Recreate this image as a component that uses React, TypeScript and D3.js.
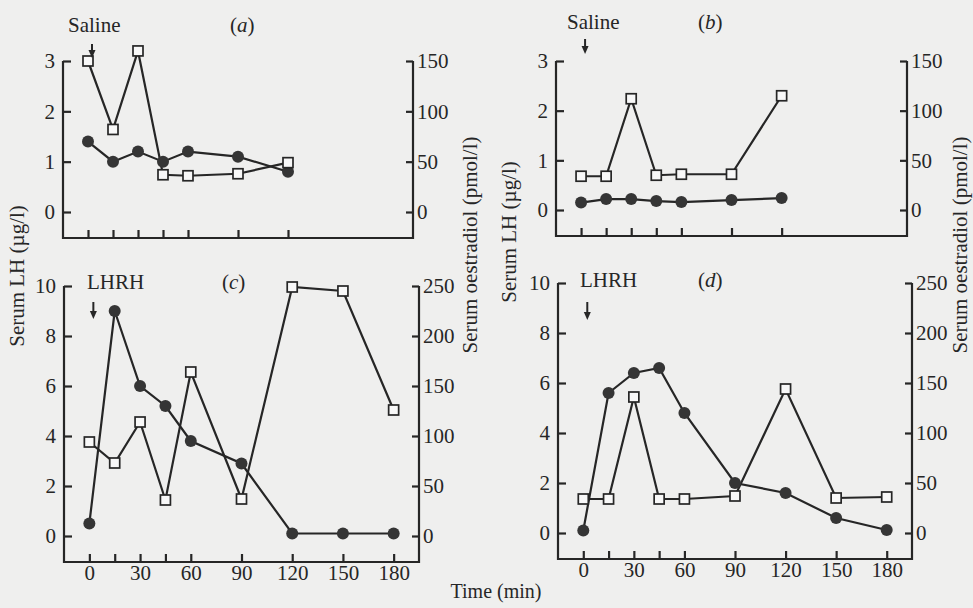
import { useEffect, useRef } from 'react';
import * as d3 from 'd3';

// sampling times (min)
const timesSaline = [0, 15, 30, 45, 60, 90, 120];
const timesLhrh = [0, 15, 30, 45, 60, 90, 120, 150, 180];
const timeTickLabels = [0, 30, 60, 90, 120, 150, 180];

const lhTicksSaline = [0, 1, 2, 3];
const e2TicksSaline = [0, 50, 100, 150];
const lhTicksLhrh = [0, 2, 4, 6, 8, 10];
const e2TicksLhrh = [0, 50, 100, 150, 200, 250];

// serum LH (ug/l), filled circles
const lhA = [1.4, 1.0, 1.2, 1.0, 1.2, 1.1, 0.8];
const lhB = [0.15, 0.22, 0.22, 0.18, 0.16, 0.2, 0.24];
const lhC = [0.5, 9.0, 6.0, 5.2, 3.8, 2.9, 0.1, 0.1, 0.1];
const lhD = [0.1, 5.6, 6.4, 6.6, 4.8, 2.0, 1.6, 0.6, 0.12];

// serum oestradiol (pmol/l), open squares
const e2A = [150, 82, 160, 37, 36, 38, 49];
const e2B = [34, 34, 112, 35, 36, 36, 115];
const e2C = [94, 73, 114, 36, 164, 37, 249, 245, 126];
const e2D = [34, 34, 136, 34, 34, 37, 144, 35, 36];

const W = 973;
const H = 608;
const ink = '#262626';
const font = '"Liberation Serif", "Times New Roman", serif';
const fs = 21;

const panels = [
  { letter: 'a', label: 'Saline', times: timesSaline, lh: lhA, e2: e2A, lhTicks: lhTicksSaline, e2Ticks: e2TicksSaline, showTime: false,
    left: 63, right: 413, top: 61, zero: 212, bottom: 238, labelX: 68, labelY: 32, letterX: 230, arrow: [44, 58] },
  { letter: 'b', label: 'Saline', times: timesSaline, lh: lhB, e2: e2B, lhTicks: lhTicksSaline, e2Ticks: e2TicksSaline, showTime: false,
    left: 556, right: 907, top: 61, zero: 210, bottom: 236, labelX: 567, labelY: 29, letterX: 698, arrow: [39, 54] },
  { letter: 'c', label: 'LHRH', times: timesLhrh, lh: lhC, e2: e2C, lhTicks: lhTicksLhrh, e2Ticks: e2TicksLhrh, showTime: true,
    left: 64, right: 419, top: 286, zero: 536, bottom: 562, labelX: 87, labelY: 289, letterX: 222, arrow: [302, 319] },
  { letter: 'd', label: 'LHRH', times: timesLhrh, lh: lhD, e2: e2D, lhTicks: lhTicksLhrh, e2Ticks: e2TicksLhrh, showTime: true,
    left: 558, right: 912, top: 283, zero: 533, bottom: 559, labelX: 580, labelY: 287, letterX: 698, arrow: [302, 320] },
];

function App() {
  const ref = useRef<SVGSVGElement>(null);

  useEffect(() => {
    const svg = d3.select(ref.current);
    svg.selectAll('*').remove();

    svg.append('rect').attr('width', W).attr('height', H).attr('fill', '#efefee');

    panels.forEach(p => {
      const g = svg.append('g');
      const x = d3.scaleLinear().domain([-15, 195]).range([p.left, p.right]);
      const yL = d3.scaleLinear().domain([0, d3.max(p.lhTicks)]).range([p.zero, p.top]);
      const yR = d3.scaleLinear().domain([0, d3.max(p.e2Ticks)]).range([p.zero, p.top]);

      // frame: left, bottom and right axis lines
      g.append('path')
        .attr('d', `M${p.left},${p.top}V${p.bottom}H${p.right}V${p.top}`)
        .attr('fill', 'none').attr('stroke', ink).attr('stroke-width', 2.2);

      const left = g.append('g')
        .attr('transform', `translate(${p.left},0)`)
        .call(d3.axisLeft(yL).tickValues(p.lhTicks).tickSize(-8).tickPadding(8).tickFormat(d3.format('d')));
      const right = g.append('g')
        .attr('transform', `translate(${p.right},0)`)
        .call(d3.axisRight(yR).tickValues(p.e2Ticks).tickSize(-7).tickPadding(4).tickFormat(d3.format('d')));
      const bottom = g.append('g')
        .attr('transform', `translate(0,${p.bottom})`)
        .call(d3.axisBottom(x).tickValues(p.times).tickSize(-8).tickPadding(3)
          .tickFormat(d => (p.showTime && timeTickLabels.includes(+d) ? String(d) : '')));

      ;[left, right, bottom].forEach(a => {
        a.select('.domain').remove();
        a.attr('font-family', font).attr('font-size', fs).attr('color', ink);
        a.selectAll('line').attr('stroke-width', 2.2);
      });

      // series lines
      const lineLh = d3.line<number>().x((_, i) => x(p.times[i])).y(d => yL(d));
      const lineE2 = d3.line<number>().x((_, i) => x(p.times[i])).y(d => yR(d));
      g.append('path').attr('d', lineLh(p.lh)).attr('fill', 'none').attr('stroke', ink).attr('stroke-width', 2.2);
      g.append('path').attr('d', lineE2(p.e2)).attr('fill', 'none').attr('stroke', ink).attr('stroke-width', 2.2);

      g.selectAll('circle.lh')
        .data(p.lh)
        .enter()
        .append('circle')
        .attr('cx', (_, i) => x(p.times[i]))
        .attr('cy', d => yL(d))
        .attr('r', 6)
        .attr('fill', '#353535');

      g.selectAll('rect.e2')
        .data(p.e2)
        .enter()
        .append('rect')
        .attr('x', (_, i) => x(p.times[i]) - 5)
        .attr('y', d => yR(d) - 5)
        .attr('width', 10)
        .attr('height', 10)
        .attr('fill', '#f8f8f8')
        .attr('stroke', ink)
        .attr('stroke-width', 1.7);

      // treatment label, arrow and panel letter
      g.append('text')
        .attr('x', p.labelX).attr('y', p.labelY)
        .attr('font-family', font).attr('font-size', fs).attr('fill', ink)
        .text(p.label);

      const lt = g.append('text')
        .attr('x', p.letterX).attr('y', p.labelY)
        .attr('font-family', font).attr('font-size', fs).attr('fill', ink);
      lt.append('tspan').text('(');
      lt.append('tspan').attr('font-style', 'italic').text(p.letter);
      lt.append('tspan').text(')');

      const ax = x(0) + 4;
      g.append('line')
        .attr('x1', ax).attr('x2', ax).attr('y1', p.arrow[0]).attr('y2', p.arrow[1] - 5)
        .attr('stroke', ink).attr('stroke-width', 2);
      g.append('path')
        .attr('d', `M${ax - 3.5},${p.arrow[1] - 8}L${ax + 3.5},${p.arrow[1] - 8}L${ax},${p.arrow[1]}Z`)
        .attr('fill', ink);
    });

    // axis titles
    const titles = [
      { text: 'Serum LH (\u00b5g/l)', x: 17, y: 276 },
      { text: 'Serum LH (\u00b5g/l)', x: 509, y: 232 },
      { text: 'Serum oestradiol (pmol/l)', x: 470, y: 245 },
      { text: 'Serum oestradiol (pmol/l)', x: 960, y: 245 },
    ];
    titles.forEach(t => {
      svg.append('text')
        .attr('transform', `translate(${t.x},${t.y}) rotate(-90)`)
        .attr('text-anchor', 'middle')
        .attr('dominant-baseline', 'central')
        .attr('font-family', font).attr('font-size', fs).attr('fill', ink)
        .text(t.text);
    });

    svg.append('text')
      .attr('x', 496).attr('y', 598)
      .attr('text-anchor', 'middle')
      .attr('font-family', font).attr('font-size', 20).attr('fill', ink)
      .text('Time (min)');
  }, []);

  return (
    <svg ref={ref} width={W} height={H} style={{ position: 'absolute', left: 0, top: 0, display: 'block' }} />
  );
}

export default App;
